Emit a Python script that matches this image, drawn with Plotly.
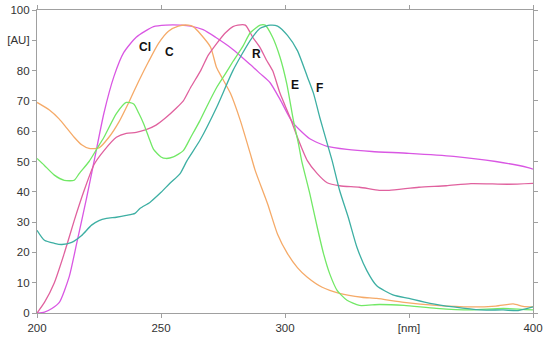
import plotly.graph_objects as go

# Cl (violet)
cl_x = [200, 203, 206, 209, 213, 216, 220, 223, 227, 231, 235, 240, 247, 252, 258, 262, 267, 272,
        279, 286, 290, 294, 298, 303, 310, 317, 325, 335, 350, 368, 385, 398, 400]
cl_y = [0, 0.3, 1.5, 3.5, 12, 23, 38, 50, 66, 78, 86, 91, 94.5, 95, 95, 94.7, 93.5, 91,
        87, 82, 79, 76, 70.5, 63, 57.5, 55, 54, 53.3, 52.7, 51.7, 50, 48, 47.5]

# C (orange)
c_x = [200, 205, 209, 212, 215, 218, 221, 225, 229, 233, 237, 241, 245, 249, 253, 257, 261, 263,
       266, 270, 272.4, 274.5, 278, 282, 286, 288, 293, 297, 301, 305, 309, 315, 322, 331, 337,
       348, 361, 375, 385, 392, 396, 400]
c_y = [69.5, 67, 64, 61, 58, 55.5, 54.3, 54.5, 58, 63, 69.5, 76.5, 83, 89, 93, 94.7, 95, 94.5,
       92, 87.7, 81, 77.8, 72.5, 63.5, 52.6, 47, 36, 26, 19.6, 15, 11.8, 8.5, 6.5, 5.2, 4.8,
       3.5, 2.5, 2, 2.3, 3, 2.2, 2]

# R (pink)
r_x = [200, 203, 207, 211, 215, 219, 223, 227, 232, 236, 240, 244, 248, 252, 256, 259, 262, 266,
       269, 272.5, 276, 279, 281, 284, 287, 290, 292.5, 295, 298, 302, 305, 309, 313, 317, 322,
       330, 338, 342, 354, 365, 375, 390, 400]
r_y = [0, 3.5, 10, 19.7, 30.5, 40.4, 49, 53.6, 58, 59.3, 59.6, 60.5, 62, 64.5, 67.5, 70, 74.5, 80,
       85, 89, 92.5, 94.5, 95, 95, 91, 87.5, 83.5, 80, 72.5, 64.6, 58, 50.3, 46, 43, 42,
       41.5, 40.5, 40.5, 41.5, 42, 42.7, 42.5, 42.8]

# E (green)
e_x = [200, 203, 207, 211, 215, 217, 221, 224, 227, 232, 236, 239, 241, 243, 245.5, 247, 250, 252,
       255, 259, 262, 265.7, 269, 272.5, 276, 279, 283, 286, 290, 292, 295, 298, 300.7, 303.4,
       305.4, 306.7, 310, 313, 315.5, 318, 321, 325, 330, 338, 348, 361, 375, 388, 400]
e_y = [51, 48.7, 45.5, 43.8, 43.8, 46, 50, 54, 58, 65.8, 69.5, 69, 66, 62.5, 57, 54, 51.5, 51,
       51.5, 53.6, 58, 63.5, 69, 74.5, 79, 83, 88, 92.5, 95, 95, 91, 84.4, 75.7, 63.5,
       56, 50.3, 39.4, 28.3, 19.7, 13, 7.5, 4.2, 2.5, 2.8, 2.5, 1.5, 1, 1.5, 1]

# F (teal)
f_x = [200, 203, 207, 210, 214, 218, 222, 225, 228, 232, 236, 239.5, 241.5, 245.5, 249.6, 253.6,
       257.7, 260.5, 265.7, 272.5, 279, 286, 290, 294, 297, 301, 305, 309, 311.5, 314, 317, 319,
       322, 325.5, 329, 333, 337, 343.5, 350, 358.5, 368, 378.6, 388, 394, 400]
f_y = [27.3, 24, 23, 22.6, 23.3, 25.6, 29, 30.5, 31.2, 31.6, 32.2, 32.9, 34.5, 36.5, 39.5, 42.8,
       46, 50.3, 57, 68, 80, 90, 94, 95, 94.7, 91.6, 86.6, 78, 72.5, 64.6, 56, 50.3,
       40.5, 31.6, 21.7, 14, 9, 6, 4.8, 3.2, 2, 1, 1, 0.8, 2]

x_tickvals = [200, 250, 300, 350, 400]
x_ticktext = ["200", "250", "300", "[nm]", "400"]
y_tickvals = [0, 10, 20, 30, 40, 50, 60, 70, 80, 90, 100]
y_ticktext = ["0", "10", "20", "30", "40", "50", "60", "70", "80", "[AU]", "100"]

labels = ["Cl", "C", "R", "E", "F"]
label_x = [243.5, 253.3, 288.6, 304, 314.1]
label_y = [87.8, 86.3, 85.5, 75.4, 74.3]

series = [
    (cl_x, cl_y, "#D957E3"),
    (c_x, c_y, "#F5AA68"),
    (r_x, r_y, "#E0619E"),
    (e_x, e_y, "#72E866"),
    (f_x, f_y, "#3DAFA3"),
]

fig = go.Figure()
for (xs, ys, col), name in zip(series, labels):
    fig.add_trace(go.Scatter(x=xs, y=ys, mode="lines", name=name, cliponaxis=False,
                             line=dict(color=col, width=1.3, shape="spline", smoothing=0.6)))

for t, lx, ly in zip(labels, label_x, label_y):
    fig.add_annotation(x=lx, y=ly, text="<b>%s</b>" % t, showarrow=False,
                       font=dict(family="Arial, Liberation Sans", size=12, color="#111"))

axis_common = dict(showline=True, linecolor="#A0A0A0", linewidth=1.2, mirror="ticks",
                   ticks="outside", ticklen=4, tickcolor="#A0A0A0", showgrid=False,
                   zeroline=False, automargin=False,
                   tickfont=dict(family="Arial, Liberation Sans", size=11.5, color="#333"))

fig.update_layout(
    width=550, height=340,
    margin=dict(l=37, r=17, t=10, b=27, autoexpand=False),
    paper_bgcolor="white", plot_bgcolor="white",
    showlegend=False,
    xaxis=dict(range=[200, 400], tickvals=x_tickvals, ticktext=x_ticktext, **axis_common),
    yaxis=dict(range=[0, 100], tickvals=y_tickvals, ticktext=y_ticktext, **axis_common),
)

fig.write_html("out.html", config={"displayModeBar": False},
               post_script="document.body.style.margin='0';document.body.style.padding='0';")
